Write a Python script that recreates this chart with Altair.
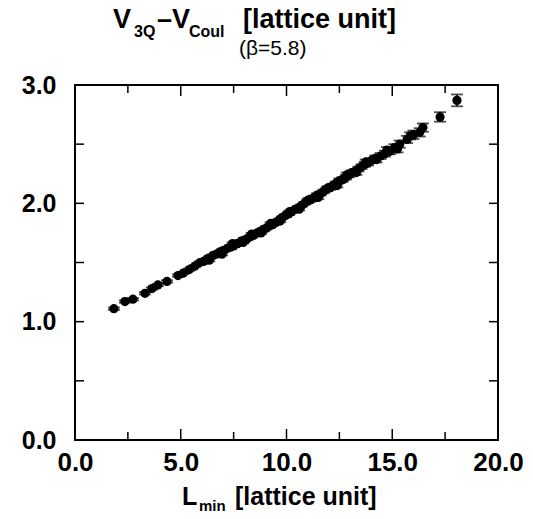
import altair as alt
import pandas as pd

# ---- data ----
L_min = [1.84, 2.36, 2.74, 3.31, 3.64, 3.92, 4.35, 4.87, 5.11, 5.40, 5.67, 5.91,
         6.10, 6.24, 6.52, 6.70, 6.85, 7.00, 7.20, 7.35, 7.50, 7.70, 7.85, 8.00,
         8.15, 8.30, 8.45, 8.60, 8.75, 8.90, 9.05, 9.20, 9.35, 9.50, 9.65, 9.80,
         9.95, 10.10, 10.25, 10.40, 10.55, 10.70, 10.85, 11.00, 11.15, 11.30, 11.45,
         11.60, 11.75, 11.90, 12.05, 12.20, 12.35, 12.50, 12.65, 12.80, 12.95, 13.10,
         13.25, 13.40, 13.55, 13.70, 13.85, 14.00, 14.20, 14.45, 14.65, 14.90, 15.10,
         15.35, 15.70, 16.00, 16.45, 17.26, 18.06,
         # second group of configurations (slightly scattered around the band)
         6.35, 6.95, 7.45, 7.95, 8.35, 8.80, 9.25, 9.70, 10.15, 10.60, 11.05, 11.50,
         11.95, 12.40, 12.85, 13.30, 13.75, 14.25, 14.75, 15.25, 15.85, 16.30]
V_diff = [1.11, 1.17, 1.19, 1.24, 1.28, 1.31, 1.34, 1.39, 1.41, 1.44, 1.47, 1.50,
          1.51, 1.53, 1.56, 1.57, 1.59, 1.60, 1.62, 1.63, 1.64, 1.66, 1.68, 1.69,
          1.70, 1.72, 1.73, 1.75, 1.76, 1.78, 1.79, 1.81, 1.82, 1.84, 1.86, 1.88,
          1.90, 1.91, 1.93, 1.95, 1.96, 1.98, 2.00, 2.02, 2.03, 2.05, 2.07,
          2.08, 2.10, 2.12, 2.13, 2.15, 2.17, 2.19, 2.20, 2.22, 2.24, 2.26,
          2.27, 2.29, 2.31, 2.33, 2.34, 2.36, 2.38, 2.40, 2.42, 2.44, 2.47,
          2.50, 2.54, 2.58, 2.64, 2.73, 2.87,
          1.52, 1.57, 1.66, 1.67, 1.74, 1.75, 1.83, 1.85, 1.93, 1.95, 2.03, 2.05,
          2.13, 2.15, 2.24, 2.26, 2.35, 2.37, 2.45, 2.46, 2.57, 2.60]
V_err = [0.01, 0.01, 0.01, 0.01, 0.01, 0.01, 0.01, 0.01, 0.01, 0.01, 0.01, 0.01,
         0.01, 0.01, 0.01, 0.01, 0.01, 0.01, 0.01, 0.01, 0.01, 0.01, 0.01, 0.01,
         0.01, 0.01, 0.01, 0.01, 0.01, 0.01, 0.01, 0.01, 0.01, 0.01, 0.01, 0.01,
         0.01, 0.01, 0.01, 0.01, 0.01, 0.01, 0.01, 0.015, 0.015, 0.015, 0.015,
         0.015, 0.015, 0.015, 0.015, 0.015, 0.015, 0.02, 0.02, 0.02, 0.02, 0.02,
         0.02, 0.02, 0.02, 0.02, 0.02, 0.02, 0.025, 0.025, 0.025, 0.025, 0.03,
         0.03, 0.03, 0.035, 0.035, 0.04, 0.05,
         0.01, 0.01, 0.01, 0.01, 0.01, 0.01, 0.01, 0.01, 0.01, 0.01, 0.015, 0.015,
         0.015, 0.015, 0.02, 0.02, 0.02, 0.025, 0.025, 0.03, 0.03, 0.035]

x_major_ticks = [5.0, 10.0, 15.0]
x_minor_ticks = [2.5, 7.5, 12.5, 17.5]
y_major_ticks = [1.0, 2.0]
y_minor_ticks = [0.5, 1.5, 2.5]
x_labels = [0.0, 5.0, 10.0, 15.0, 20.0]
y_labels = [0.0, 1.0, 2.0, 3.0]

df = pd.DataFrame({"L": L_min, "V": V_diff, "err": V_err})
df["lo"] = df["V"] - df["err"]
df["hi"] = df["V"] + df["err"]

W, H = 423, 355
FONT = "Liberation Sans"

xs = alt.Scale(domain=[0, 20], nice=False, zero=False)
ys = alt.Scale(domain=[0, 3], nice=False, zero=False)

xaxis = alt.Axis(values=x_labels, format=".1f", title=None, ticks=False, domain=False,
                 grid=False, labelFont=FONT, labelFontWeight="bold", labelFontSize=26,
                 labelColor="black", labelPadding=9, labelFlush=False)
yaxis = alt.Axis(values=y_labels, format=".1f", title=None, ticks=False, domain=False,
                 grid=False, labelFont=FONT, labelFontWeight="bold", labelFontSize=25,
                 labelColor="black", labelPadding=19, labelFlush=False)

base = alt.Chart(df)

points = base.mark_circle(size=85, color="black", opacity=1).encode(
    x=alt.X("L:Q", scale=xs, axis=xaxis),
    y=alt.Y("V:Q", scale=ys, axis=yaxis),
)
bars = base.mark_rule(color="black", strokeWidth=1.5).encode(
    x=alt.X("L:Q", scale=xs), y=alt.Y("lo:Q", scale=ys), y2="hi:Q")
cap_lo = base.mark_tick(color="black", orient="horizontal", size=12, thickness=1.8).encode(
    x=alt.X("L:Q", scale=xs), y=alt.Y("lo:Q", scale=ys))
cap_hi = base.mark_tick(color="black", orient="horizontal", size=12, thickness=1.8).encode(
    x=alt.X("L:Q", scale=xs), y=alt.Y("hi:Q", scale=ys))


def xticks(vals, length):
    d = pd.DataFrame({"t": vals})
    b = alt.Chart(d).mark_rule(color="black", strokeWidth=1.5)
    bot = b.encode(x=alt.X("t:Q", scale=xs), y=alt.value(H), y2=alt.value(H - length))
    top = b.encode(x=alt.X("t:Q", scale=xs), y=alt.value(0), y2=alt.value(length))
    return bot + top


def yticks(vals, length):
    d = pd.DataFrame({"t": vals})
    b = alt.Chart(d).mark_rule(color="black", strokeWidth=1.5)
    left = b.encode(y=alt.Y("t:Q", scale=ys), x=alt.value(0), x2=alt.value(length))
    right = b.encode(y=alt.Y("t:Q", scale=ys), x=alt.value(W), x2=alt.value(W - length))
    return left + right


def label(txt, x, y, size, weight="bold"):
    return alt.Chart(pd.DataFrame({"s": [txt]})).mark_text(
        align="left", baseline="alphabetic", font=FONT, fontSize=size,
        fontWeight=weight, color="black").encode(
        text="s:N", x=alt.value(x), y=alt.value(y))


titles = (
    label("V", 38, -57, 27) + label("3Q", 59, -48, 16) + label("–V", 82, -57, 27)
    + label("Coul", 114, -48, 16) + label("[lattice unit]", 168, -57, 27)
    + label("(β=5.8)", 164, -30, 21, "normal")
    + label("L", 107, 420, 25) + label("min", 124, 426, 15)
    + label("[lattice unit]", 160, 420, 25)
)

chart = alt.layer(
    bars, cap_lo, cap_hi, points,
    xticks(x_major_ticks, 11), xticks(x_minor_ticks, 8),
    yticks(y_major_ticks, 9), yticks(y_minor_ticks, 9),
    titles,
).properties(
    width=W, height=H,
    autosize=alt.AutoSizeParams(type="none"),
    padding={"left": 75, "top": 85, "right": 35, "bottom": 79},
    background="white",
).configure_view(stroke="black", strokeWidth=2)

chart.save("out.html", embed_options={"renderer": "svg", "actions": False})
